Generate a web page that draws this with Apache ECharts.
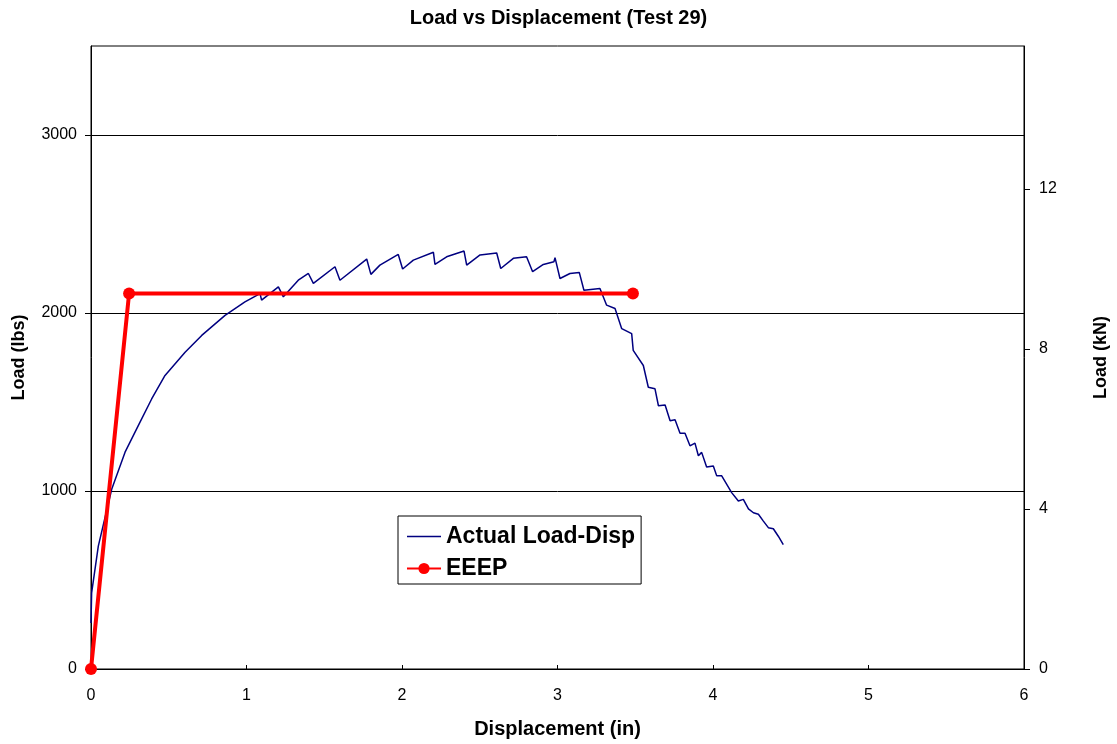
<!DOCTYPE html>
<html>
<head>
<meta charset="utf-8">
<script src="https://cdn.jsdelivr.net/npm/echarts@6/dist/echarts.min.js"></script>
<style>
  html, body { margin: 0; padding: 0; background: #fff; }
  #chart { width: 1117px; height: 744px; }
</style>
</head>
<body>
<div id="chart"></div>
<script>
  // displacement (in) / load (lbs)
  var actualDisp = [0, 0.004, 0.047, 0.133, 0.219, 0.304, 0.39, 0.476, 0.605, 0.712, 0.862, 0.99, 1.087, 1.097, 1.205, 1.237, 1.333, 1.398, 1.43, 1.569, 1.601, 1.773, 1.8, 1.858, 1.976, 2.004, 2.073, 2.202, 2.212, 2.287, 2.399, 2.416, 2.502, 2.609, 2.635, 2.716, 2.801, 2.84, 2.909, 2.977, 2.984, 3.016, 3.08, 3.14, 3.17, 3.273, 3.316, 3.37, 3.413, 3.477, 3.487, 3.552, 3.584, 3.627, 3.649, 3.692, 3.724, 3.756, 3.788, 3.82, 3.852, 3.884, 3.906, 3.927, 3.959, 4.002, 4.024, 4.056, 4.12, 4.163, 4.195, 4.228, 4.26, 4.292, 4.324, 4.356, 4.388, 4.42, 4.452];
  var actualLoad = [259, 428, 690, 1010, 1218, 1367, 1517, 1649, 1780, 1874, 1987, 2062, 2109, 2072, 2147, 2091, 2184, 2222, 2166, 2260, 2184, 2303, 2217, 2269, 2329, 2247, 2297, 2341, 2273, 2316, 2348, 2269, 2326, 2337, 2250, 2307, 2316, 2232, 2273, 2288, 2311, 2194, 2222, 2228, 2128, 2138, 2044, 2025, 1912, 1884, 1790, 1705, 1583, 1574, 1479, 1483, 1395, 1400, 1325, 1325, 1254, 1269, 1198, 1217, 1135, 1141, 1085, 1085, 991, 944, 953, 900, 878, 869, 831, 794, 788, 746, 699];

  var eeepDisp = [0, 0.245, 3.485];
  var eeepLoad = [0, 2110, 2110];

  var LBS_TO_KN = 0.0044482;
  var loadMax = 3500;

  function pairs(xs, ys) {
    return xs.map(function (x, i) { return [x, ys[i]]; });
  }

  function tickLabels(margin, showMax) {
    return {
      fontFamily: 'Liberation Sans, Arial',
      fontSize: 16,
      color: '#000',
      margin: margin,
      showMaxLabel: showMax,
      formatter: function (v) { return String(v); }
    };
  }
  function nameFont(size) {
    return { fontFamily: 'Liberation Sans, Arial', fontSize: size, fontWeight: 'bold', color: '#000' };
  }

  var chart = echarts.init(document.getElementById('chart'));
  chart.setOption({
    backgroundColor: '#fff',
    animation: false,
    title: {
      text: 'Load vs Displacement (Test 29)',
      left: 'center',
      top: 3,
      textStyle: { fontFamily: 'Liberation Sans, Arial', fontSize: 20, fontWeight: 'bold', color: '#000' }
    },
    grid: {
      left: 91,
      right: 93,
      top: 46,
      bottom: 75,
      containLabel: false,
      outerBoundsMode: 'none',
      show: true,
      borderColor: '#000',
      borderWidth: 1,
      backgroundColor: '#fff'
    },
    legend: {
      orient: 'vertical',
      left: 398,
      top: 516,
      backgroundColor: '#fff',
      borderColor: '#000',
      borderWidth: 1,
      padding: [9, 6, 4, 8],
      itemGap: 9,
      itemWidth: 34,
      itemHeight: 14,
      textStyle: { fontFamily: 'Liberation Sans, Arial', fontSize: 23, fontWeight: 'bold', color: '#000' },
      data: [
        { name: 'Actual Load-Disp', icon: 'path://M0,0h40v1.5h-40z' },
        'EEEP'
      ]
    },
    xAxis: {
      type: 'value',
      min: 0,
      max: 6,
      interval: 1,
      name: 'Displacement (in)',
      nameLocation: 'middle',
      nameGap: 50,
      nameTextStyle: nameFont(20),
      axisLine: { lineStyle: { color: '#000' } },
      axisTick: { show: true, inside: true, length: 4, lineStyle: { color: '#000' } },
      axisLabel: tickLabels(19, true),
      splitLine: { show: false }
    },
    yAxis: [
      {
        type: 'value',
        min: 0,
        max: loadMax,
        interval: 1000,
        name: 'Load (lbs)',
        nameLocation: 'middle',
        nameRotate: 90,
        nameGap: 63,
        nameTextStyle: nameFont(18),
        axisLine: { show: true, lineStyle: { color: '#000' } },
        axisTick: { show: true, length: 6, lineStyle: { color: '#000' } },
        axisLabel: tickLabels(14, false),
        splitLine: { show: true, showMaxLine: false, lineStyle: { color: '#000', width: 1 } }
      },
      {
        type: 'value',
        min: 0,
        max: loadMax * LBS_TO_KN,
        interval: 4,
        name: 'Load (kN)',
        nameLocation: 'middle',
        nameRotate: 90,
        nameGap: 68,
        nameTextStyle: nameFont(18),
        position: 'right',
        axisLine: { show: true, lineStyle: { color: '#000' } },
        axisTick: { show: true, length: 6, lineStyle: { color: '#000' } },
        axisLabel: tickLabels(15, false),
        splitLine: { show: false }
      }
    ],
    series: [
      {
        name: 'Actual Load-Disp',
        type: 'line',
        symbol: 'none',
        data: pairs(actualDisp, actualLoad),
        color: '#000080',
        lineStyle: { color: '#000080', width: 1.5 },
        z: 3
      },
      {
        name: 'EEEP',
        type: 'line',
        symbol: 'circle',
        symbolSize: 12,
        data: pairs(eeepDisp, eeepLoad),
        color: '#ff0000',
        itemStyle: { color: '#ff0000' },
        lineStyle: { color: '#ff0000', width: 4 },
        z: 4
      }
    ]
  });
</script>
</body>
</html>
